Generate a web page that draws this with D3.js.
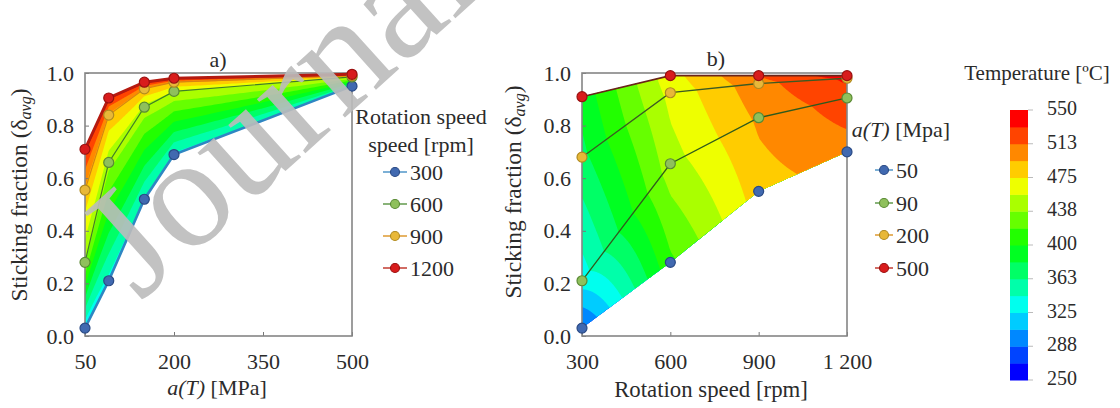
<!DOCTYPE html>
<html><head><meta charset="utf-8">
<script src="https://cdn.jsdelivr.net/npm/d3@7"></script>
<style>body{margin:0;background:#fff;} text{font-family:"Liberation Serif","Times New Roman",serif;fill:#2b2b2b;}</style>
</head><body>
<svg id="chart" width="1120" height="408"></svg>
<script>
// ---------- data ----------
// Panel a: x = a(T) [MPa], one series per rotation speed
const pressuresA = [50, 90, 150, 200, 500];
const speedLabelsA = ["300", "600", "900", "1200"];
const stick300 = [0.03, 0.21, 0.52, 0.69, 0.95];
const stick600 = [0.28, 0.66, 0.87, 0.93, 0.985];
const stick900 = [0.555, 0.84, 0.94, 0.965, 0.99];
const stick1200 = [0.71, 0.905, 0.965, 0.98, 0.995];
const temp300 = [330, 338, 342, 340, 345];
const temp600 = [440, 445, 450, 455, 460];
const temp900 = [490, 490, 492, 495, 500];
const temp1200 = [535, 535, 538, 540, 545];

// Panel b: x = rotation speed [rpm], one series per a(T)
const speedsB = [300, 600, 900, 1200];
const speedTickLabelsB = ["300", "600", "900", "1 200"];
const pressLabelsB = ["50", "90", "200", "500"];
const stickP50 = [0.03, 0.28, 0.55, 0.70];
const stickP90 = [0.21, 0.655, 0.83, 0.905];
const stickP200 = [0.68, 0.925, 0.96, 0.98];
const stickP500 = [0.91, 0.99, 0.99, 0.99];
const tempP50 = [284, 415, 485, 505];
const tempP90 = [334, 448, 497, 523];
const tempP200 = [376, 462, 506, 535];
const tempP500 = [388, 468, 513, 542];

// Axis ticks
const yTicks = [0, 0.2, 0.4, 0.6, 0.8, 1.0];
const xTicksA = [50, 200, 350, 500];
// Colour bar
const cbTickValues = [250, 287.5, 325, 362.5, 400, 437.5, 475, 512.5, 550];
const cbTickLabels = ["250", "288", "325", "363", "400", "438", "475", "513", "550"];
const tempMin = 250, tempMax = 550, nBands = 16;

// ---------- styles ----------
const seriesStyle = [
  {fill: "#4169b0", stroke: "#2a4a85", line: "#3585c0"},
  {fill: "#8fc05c", stroke: "#5a8a34", line: "#4a8a30"},
  {fill: "#e8b838", stroke: "#b08a20", line: "#d88a10"},
  {fill: "#d81c1c", stroke: "#9a1010", line: "#b81c10"}
];

const svg = d3.select("#chart");
const colorScale = d3.scaleLinear()
  .domain([250, 325, 400, 475, 550])
  .range(["#0000ff", "#00ffff", "#00ff00", "#ffff00", "#ff0000"]);
const bandStep = (tempMax - tempMin) / nBands;
const bandEdges = d3.range(nBands).map(k => tempMin + k * bandStep);
const bandColor = k => colorScale(tempMin + k * (tempMax - tempMin) / (nBands - 1));

const yA = d3.scaleLinear().domain([0, 1]).range([336, 73]);
const xA = d3.scaleLinear().domain([50, 500]).range([85, 352]);
const yB = d3.scaleLinear().domain([0, 1]).range([336, 73]);
const xB = d3.scaleLinear().domain([300, 1200]).range([582, 847]);

function drawField(g, xs, series, temps, x, y) {
  const nx = xs.length, ns = series.length;
  const Nu = 50, Nv = 40;
  const dx = (nx - 1) * Nu, dy = (ns - 1) * Nv;
  function bil(arr, u, v) {
    let i = Math.max(0, Math.min(Math.floor(u), nx - 2)), fu = u - i;
    let j = Math.max(0, Math.min(Math.floor(v), ns - 2)), fv = v - j;
    const a = arr[j][i] * (1 - fu) + arr[j][i + 1] * fu;
    const b = arr[j + 1][i] * (1 - fu) + arr[j + 1][i + 1] * fu;
    return a * (1 - fv) + b * fv;
  }
  const vals = new Float64Array(dx * dy);
  for (let j = 0; j < dy; j++)
    for (let i = 0; i < dx; i++)
      vals[i + j * dx] = bil(temps, (i + 0.5) / dx * (nx - 1), (j + 0.5) / dy * (ns - 1));
  const map = p => {
    const u = p[0] / dx * (nx - 1), v = p[1] / dy * (ns - 1);
    const i = Math.max(0, Math.min(Math.floor(u), nx - 2)), fu = u - i;
    const xv = xs[i] + fu * (xs[i + 1] - xs[i]);
    return [x(xv).toFixed(2), y(bil(series, u, v)).toFixed(2)];
  };
  const contours = d3.contours().size([dx, dy]).thresholds(bandEdges)(vals);
  g.selectAll("path.band").data(contours).join("path")
    .attr("class", "band")
    .attr("fill-rule", "evenodd")
    .attr("fill", d => bandColor(bandEdges.indexOf(d.value)))
    .attr("stroke", "none")
    .attr("d", d => d.coordinates.map(poly => poly.map(ring =>
      "M" + ring.map(p => map(p).join(",")).join("L") + "Z").join("")).join(""));
}

function drawAxes(g, x, y, xTickVals, xFmt) {
  g.append("g").attr("transform", "translate(0,336)")
    .call(d3.axisBottom(x).tickValues(xTickVals).tickFormat(xFmt).tickSize(-4).tickPadding(17))
    .call(s => { s.select(".domain").remove(); s.selectAll("line").attr("stroke", "#777");
      s.selectAll("text").attr("font-size", 22).attr("fill", "#2b2b2b")
       .attr("font-family", "Liberation Serif"); });
  g.append("g").attr("transform", `translate(${x.range()[0]},0)`)
    .call(d3.axisLeft(y).tickValues(yTicks).tickFormat(d3.format(".1f")).tickSize(-4).tickPadding(11))
    .call(s => { s.select(".domain").remove(); s.selectAll("line").attr("stroke", "#777");
      s.selectAll("text").attr("font-size", 22).attr("fill", "#2b2b2b")
       .attr("font-family", "Liberation Serif"); });
  g.append("rect").attr("x", x.range()[0]).attr("y", y.range()[1])
    .attr("width", x.range()[1] - x.range()[0]).attr("height", y.range()[0] - y.range()[1])
    .attr("fill", "none").attr("stroke", "#858585").attr("stroke-width", 1.6);
}

function drawSeries(g, xs, series, x, y, lineStyles, drawLineFlags) {
  series.forEach((vals, k) => {
    if (!drawLineFlags[k]) return;
    const ls = lineStyles[k];
    g.append("path").datum(vals)
      .attr("fill", "none").attr("stroke", ls.color).attr("stroke-width", ls.width)
      .attr("d", d3.line().x((d, i) => x(xs[i])).y(d => y(d)));
  });
  series.forEach((vals, k) => {
    g.selectAll(null).data(vals).join("circle")
      .attr("cx", (d, i) => x(xs[i])).attr("cy", d => y(d)).attr("r", 5)
      .attr("fill", seriesStyle[k].fill).attr("stroke", seriesStyle[k].stroke).attr("stroke-width", 1.2);
  });
}

function yTitle(g, tx, ty) {
  const t = g.append("text").attr("transform", `translate(${tx},${ty}) rotate(-90)`)
    .attr("text-anchor", "middle").attr("font-size", 23.5);
  t.append("tspan").text("Sticking fraction (δ");
  t.append("tspan").attr("dy", 4).attr("font-size", 16).attr("font-style", "italic").text("avg");
  t.append("tspan").attr("dy", -4).text(")");
}

function legend(g, x0, lineLen, ys, labels) {
  labels.forEach((lab, k) => {
    const yy = ys[k];
    g.append("line").attr("x1", x0).attr("x2", x0 + lineLen).attr("y1", yy).attr("y2", yy)
      .attr("stroke", seriesStyle[k].line).attr("stroke-width", 1.3);
    g.append("circle").attr("cx", x0 + lineLen / 2).attr("cy", yy).attr("r", 4.5)
      .attr("fill", seriesStyle[k].fill).attr("stroke", seriesStyle[k].stroke).attr("stroke-width", 1.1);
    g.append("text").attr("x", x0 + lineLen + 3).attr("y", yy).attr("dy", "0.35em")
      .attr("font-size", 22).text(lab);
  });
}

// ---------- panel a ----------
const gA = svg.append("g");
const seriesA = [stick300, stick600, stick900, stick1200];
const tempsA = [temp300, temp600, temp900, temp1200];
drawField(gA, pressuresA, seriesA, tempsA, xA, yA);
drawAxes(gA, xA, yA, xTicksA, d3.format("d"));
drawSeries(gA, pressuresA, seriesA, xA, yA, [
  {color: "#2f86c2", width: 2.6}, {color: "#3f7f28", width: 1.2},
  {color: "#d88410", width: 1.2}, {color: "#b51a10", width: 3}], [true, true, true, true]);
gA.append("text").attr("x", 218).attr("y", 67).attr("text-anchor", "middle").attr("font-size", 22).text("a)");
const xtA = gA.append("text").attr("x", 217).attr("y", 395).attr("text-anchor", "middle").attr("font-size", 22);
xtA.append("tspan").attr("font-style", "italic").text("a(T)");
xtA.append("tspan").text(" [MPa]");
yTitle(gA, 27, 195);
gA.append("text").attr("x", 421).attr("y", 124).attr("text-anchor", "middle").attr("font-size", 22).text("Rotation speed");
gA.append("text").attr("x", 421).attr("y", 152).attr("text-anchor", "middle").attr("font-size", 22).text("speed [rpm]");
legend(gA, 383, 24, [172, 204, 236, 268], speedLabelsA);

// ---------- panel b ----------
const gB = svg.append("g");
const seriesB = [stickP50, stickP90, stickP200, stickP500];
const tempsB = [tempP50, tempP90, tempP200, tempP500];
drawField(gB, speedsB, seriesB, tempsB, xB, yB);
drawAxes(gB, xB, yB, speedsB, (d, i) => speedTickLabelsB[i]);
drawSeries(gB, speedsB, seriesB, xB, yB, [
  {color: "#3a6ab0", width: 1}, {color: "#2f5a1c", width: 1.3},
  {color: "#3c5a22", width: 1.3}, {color: "#6b2418", width: 1.6}], [false, true, true, true]);
gB.append("text").attr("x", 716).attr("y", 66).attr("text-anchor", "middle").attr("font-size", 22).text("b)");
gB.append("text").attr("x", 711).attr("y", 397).attr("text-anchor", "middle").attr("font-size", 22.8).text("Rotation speed [rpm]");
yTitle(gB, 521, 192);
const ltB = gB.append("text").attr("x", 901).attr("y", 137).attr("text-anchor", "middle").attr("font-size", 22);
ltB.append("tspan").attr("font-style", "italic").text("a(T)");
ltB.append("tspan").text(" [Mpa]");
legend(gB, 875, 18, [170, 203, 235, 268], pressLabelsB);

// ---------- colour bar ----------
const gC = svg.append("g");
const cbY = d3.scaleLinear().domain([tempMin, tempMax]).range([380, 110]);
gC.selectAll("rect").data(d3.range(nBands)).join("rect")
  .attr("x", 1010).attr("width", 18)
  .attr("y", k => cbY(tempMin + (k + 1) * bandStep))
  .attr("height", k => cbY(tempMin + k * bandStep) - cbY(tempMin + (k + 1) * bandStep) + 0.5)
  .attr("fill", k => bandColor(k));
gC.selectAll("line").data(cbTickValues).join("line")
  .attr("x1", 1028).attr("x2", 1033).attr("y1", d => cbY(d)).attr("y2", d => cbY(d))
  .attr("stroke", "#bbb");
gC.selectAll("text.cbl").data(cbTickValues).join("text").attr("class", "cbl")
  .attr("x", 1047).attr("y", d => cbY(d) - 2).attr("dy", "0.35em").attr("font-size", 20)
  .text((d, i) => cbTickLabels[i]);
gC.append("text").attr("x", 1037).attr("y", 80).attr("text-anchor", "middle").attr("font-size", 21).text("Temperature [ºC]");

// ---------- watermark ----------
svg.append("text").attr("transform", "translate(140,302) rotate(-42)")
  .attr("font-family", "Liberation Sans, Arial, sans-serif").attr("font-size", 158)
  .style("fill", "#bcbcbc").attr("opacity", 0.9).text("Journal");
</script>
</body></html>
